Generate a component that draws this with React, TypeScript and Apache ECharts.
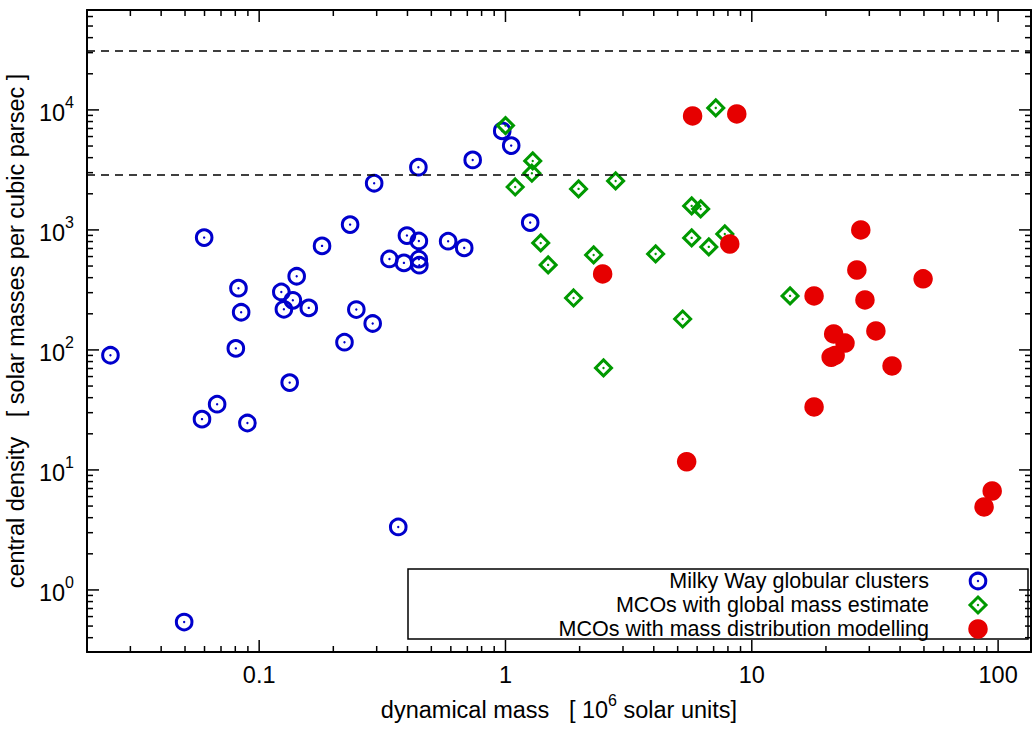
import React, { useEffect, useRef } from "react";
import * as echarts from "echarts";

// ---- data ----
const blueX = [0.0249, 0.0598, 0.0824, 0.0845, 0.0804, 0.133, 0.0675, 0.0586, 0.0896, 0.142, 0.123, 0.137, 0.126, 0.159, 0.180, 0.234, 0.248, 0.222, 0.289, 0.293, 0.338, 0.387, 0.398, 0.445, 0.445, 0.447, 0.443, 0.585, 0.68, 0.736, 0.97, 1.055, 1.26, 0.367, 0.0496];
const blueY = [90.3, 863, 327, 206, 103, 53.4, 35.3, 26.5, 24.6, 411, 304, 259, 218, 224, 736, 1107, 217, 116, 166, 2449, 573, 531, 897, 809, 570, 508, 3331, 805, 708, 3830, 6683, 5040, 1151, 3.35, 0.54];

const greenX = [1.0, 1.29, 1.28, 1.095, 1.39, 1.49, 1.98, 2.8, 1.89, 2.28, 2.5, 4.07, 5.24, 5.7, 6.2, 5.7, 6.69, 7.77, 7.14, 14.3];
const greenY = [7400, 3758, 2969, 2281, 779, 511, 2197, 2560, 271, 619, 70.8, 631, 181, 1585, 1496, 858, 722, 926, 10390, 282];

const redX = [5.75, 8.69, 8.14, 2.48, 5.44, 17.9, 17.9, 27.7, 26.7, 28.8, 21.5, 23.9, 21.0, 21.8, 31.9, 37.1, 49.6, 94.6, 87.7];
const redY = [8913, 9260, 764, 430, 11.7, 282, 33.5, 1000, 464, 261, 136, 114, 87, 90, 144, 73.6, 391, 6.68, 4.92];

const dashedLevels = [2870, 31000];

const X_MIN = 0.02;
const X_MAX = 136;
const Y_MIN = 0.304;
const Y_MAX = 68000;

const xMajorTicks = [0.1, 1, 10, 100];
const xMinorTicks = [0.03, 0.04, 0.05, 0.06, 0.07, 0.08, 0.09, 0.2, 0.3, 0.4, 0.5, 0.6, 0.7, 0.8, 0.9, 2, 3, 4, 5, 6, 7, 8, 9, 20, 30, 40, 50, 60, 70, 80, 90];
const yMajorTicks = [1, 10, 100, 1000, 10000];
const yMinorTicks = [0.4, 0.5, 0.6, 0.7, 0.8, 0.9, 2, 3, 4, 5, 6, 7, 8, 9, 20, 30, 40, 50, 60, 70, 80, 90, 200, 300, 400, 500, 600, 700, 800, 900, 2000, 3000, 4000, 5000, 6000, 7000, 8000, 9000, 20000, 30000, 40000, 50000, 60000];

const legendLabels = [
  "Milky Way globular clusters",
  "MCOs with global mass estimate",
  "MCOs with mass distribution modelling",
];

const xNameRich = "{b|dynamical mass   [ 10}{s|6}{b| solar units]}";
const yName = "central density   [ solar masses per cubic parsec ]";

const FONT = '"Liberation Sans", Arial, Helvetica, sans-serif';
const FS = 23.5;
const LEGEND_FS = 21.5;
const BLUE = "#0000cc";
const GREEN = "#009900";
const RED = "#e60000";

function isPow10(v: number) {
  const l = Math.log10(v);
  return Math.abs(l - Math.round(l)) < 1e-6;
}

export default function App() {
  const ref = useRef<HTMLDivElement>(null);
  useEffect(() => {
    if (!ref.current) return;
    const chart = echarts.init(ref.current, null, { renderer: "svg" });

    const axisLine = { show: true, lineStyle: { color: "#000", width: 2 } };
    const tickStyle = { stroke: "#000", lineWidth: 1.5 };
    const richSup = {
      b: { fontSize: FS, fontFamily: FONT, color: "#000", lineHeight: 30, verticalAlign: "bottom" },
      s: { fontSize: 16, fontFamily: FONT, color: "#000", lineHeight: 16, verticalAlign: "top" },
    };

    const xTickData = [
      ...xMajorTicks.map((v) => [v, 1, 12]),
      ...xMinorTicks.map((v) => [v, 1, 6]),
    ];
    const yTickData = [
      ...yMajorTicks.map((v) => [1, v, 12]),
      ...yMinorTicks.map((v) => [1, v, 6]),
    ];

    const legendRowsY = [581, 605, 629];

    const option: any = {
      animation: false,
      grid: {
        left: 87,
        right: 3,
        top: 10,
        bottom: 77,
        containLabel: false,
        outerBoundsMode: "none",
      },
      xAxis: [
        {
          type: "log",
          logBase: 10,
          min: X_MIN,
          max: X_MAX,
          position: "bottom",
          axisLine,
          axisTick: { show: false },
          minorTick: { show: false },
          splitLine: { show: false },
          axisLabel: {
            interval: 0,
            margin: 11,
            color: "#000",
            fontSize: FS,
            fontFamily: FONT,
            formatter: (v: number) =>
              isPow10(v) ? String(parseFloat(v.toPrecision(6))) : "",
          },
          name: xNameRich,
          nameLocation: "middle",
          nameGap: 40,
          nameTextStyle: { color: "#000", fontSize: FS, fontFamily: FONT, rich: richSup },
        },
        {
          type: "log",
          logBase: 10,
          min: X_MIN,
          max: X_MAX,
          position: "top",
          axisLine,
          axisTick: { show: false },
          splitLine: { show: false },
          axisLabel: { show: false },
        },
      ],
      yAxis: [
        {
          type: "log",
          logBase: 10,
          min: Y_MIN,
          max: Y_MAX,
          position: "left",
          axisLine,
          axisTick: { show: false },
          minorTick: { show: false },
          splitLine: { show: false },
          axisLabel: {
            interval: 0,
            margin: 13,
            color: "#000",
            fontFamily: FONT,
            formatter: (v: number) =>
              isPow10(v) ? `{b|10}{s|${Math.round(Math.log10(v))}}` : "",
            rich: richSup,
          },
          name: yName,
          nameLocation: "middle",
          nameGap: 42,
          nameTextStyle: { color: "#000", fontSize: FS, fontFamily: FONT },
        },
        {
          type: "log",
          logBase: 10,
          min: Y_MIN,
          max: Y_MAX,
          position: "right",
          axisLine,
          axisTick: { show: false },
          splitLine: { show: false },
          axisLabel: { show: false },
        },
      ],
      series: [
        {
          type: "custom",
          name: "xticks",
          xAxisIndex: 0,
          yAxisIndex: 0,
          silent: true,
          clip: false,
          data: xTickData,
          encode: { x: 0, y: 1 },
          renderItem: (params: any, api: any) => {
            const cs = params.coordSys;
            const px = api.coord([api.value(0), 1])[0];
            const len = api.value(2);
            const b = cs.y + cs.height;
            return {
              type: "group",
              children: [
                { type: "line", shape: { x1: px, y1: b, x2: px, y2: b - len }, style: tickStyle },
                { type: "line", shape: { x1: px, y1: cs.y, x2: px, y2: cs.y + len }, style: tickStyle },
              ],
            };
          },
        },
        {
          type: "custom",
          name: "yticks",
          xAxisIndex: 0,
          yAxisIndex: 0,
          silent: true,
          clip: false,
          data: yTickData,
          encode: { x: 0, y: 1 },
          renderItem: (params: any, api: any) => {
            const cs = params.coordSys;
            const py = api.coord([1, api.value(1)])[1];
            const len = api.value(2);
            const r = cs.x + cs.width;
            return {
              type: "group",
              children: [
                { type: "line", shape: { x1: cs.x, y1: py, x2: cs.x + len, y2: py }, style: tickStyle },
                { type: "line", shape: { x1: r, y1: py, x2: r - len, y2: py }, style: tickStyle },
              ],
            };
          },
        },
        {
          type: "scatter",
          name: "dashed",
          xAxisIndex: 0,
          yAxisIndex: 0,
          data: [],
          silent: true,
          markLine: {
            silent: true,
            symbol: ["none", "none"],
            label: { show: false },
            lineStyle: { color: "#000", width: 1.5, type: [8, 6] },
            data: dashedLevels.map((v) => ({ yAxis: v })),
          },
        },
        {
          type: "custom",
          name: legendLabels[0],
          xAxisIndex: 0,
          yAxisIndex: 0,
          data: blueX.map((x, i) => [x, blueY[i]]),
          encode: { x: 0, y: 1 },
          renderItem: (params: any, api: any) => {
            const p = api.coord([api.value(0), api.value(1)]);
            return {
              type: "group",
              children: [
                { type: "circle", shape: { cx: p[0], cy: p[1], r: 7.8 }, style: { fill: "none", stroke: BLUE, lineWidth: 3 } },
                { type: "circle", shape: { cx: p[0], cy: p[1], r: 1.2 }, style: { fill: BLUE } },
              ],
            };
          },
        },
        {
          type: "custom",
          name: legendLabels[1],
          xAxisIndex: 0,
          yAxisIndex: 0,
          data: greenX.map((x, i) => [x, greenY[i]]),
          encode: { x: 0, y: 1 },
          renderItem: (params: any, api: any) => {
            const p = api.coord([api.value(0), api.value(1)]);
            const d = 8;
            return {
              type: "group",
              children: [
                {
                  type: "polygon",
                  shape: { points: [[p[0], p[1] - d], [p[0] + d, p[1]], [p[0], p[1] + d], [p[0] - d, p[1]]] },
                  style: { fill: "none", stroke: GREEN, lineWidth: 3, lineJoin: "miter" },
                },
                { type: "circle", shape: { cx: p[0], cy: p[1], r: 1.2 }, style: { fill: GREEN } },
              ],
            };
          },
        },
        {
          type: "scatter",
          name: legendLabels[2],
          xAxisIndex: 0,
          yAxisIndex: 0,
          symbol: "circle",
          symbolSize: 19.5,
          itemStyle: { color: RED, opacity: 1 },
          data: redX.map((x, i) => [x, redY[i]]),
        },
      ],
      graphic: [
        {
          type: "group",
          z: 100,
          children: [
            {
              type: "rect",
              shape: { x: 408, y: 569, width: 620, height: 70 },
              style: { fill: "#fff", stroke: "#000", lineWidth: 1.5 },
            },
            ...legendLabels.map((t, i) => ({
              type: "text",
              style: {
                text: t,
                x: 929,
                y: legendRowsY[i],
                fill: "#000",
                fontSize: LEGEND_FS,
                fontFamily: FONT,
                textAlign: "right",
                textVerticalAlign: "middle",
                align: "right",
                verticalAlign: "middle",
              },
            })),
            { type: "circle", shape: { cx: 978, cy: legendRowsY[0], r: 7.8 }, style: { fill: "none", stroke: BLUE, lineWidth: 3 } },
            { type: "circle", shape: { cx: 978, cy: legendRowsY[0], r: 1.2 }, style: { fill: BLUE } },
            {
              type: "polygon",
              shape: {
                points: [
                  [978, legendRowsY[1] - 8],
                  [986, legendRowsY[1]],
                  [978, legendRowsY[1] + 8],
                  [970, legendRowsY[1]],
                ],
              },
              style: { fill: "none", stroke: GREEN, lineWidth: 3, lineJoin: "miter" },
            },
            { type: "circle", shape: { cx: 978, cy: legendRowsY[1], r: 1.2 }, style: { fill: GREEN } },
            { type: "circle", shape: { cx: 978, cy: legendRowsY[2], r: 9.75 }, style: { fill: RED } },
          ],
        },
      ],
    };

    chart.setOption(option);
    return () => chart.dispose();
  }, []);

  return (
    <div
      ref={ref}
      style={{ position: "absolute", left: 0, top: 0, width: 1034, height: 729, background: "#fff" }}
    />
  );
}
